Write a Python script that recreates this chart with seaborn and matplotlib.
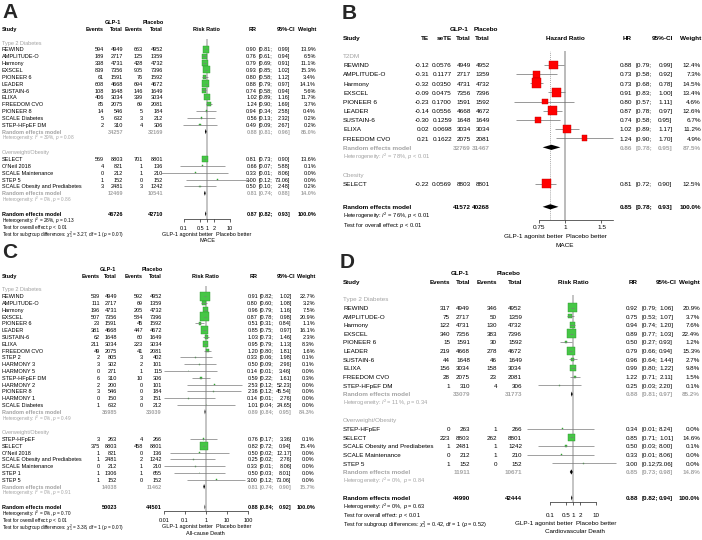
import numpy as np
import matplotlib.pyplot as plt
import matplotlib.ticker as mticker
import seaborn as sns

sns.set_theme(style="white")
plt.rcParams['font.family'] = ['Liberation Sans', 'DejaVu Sans']
plt.rcParams['mathtext.fontset'] = 'custom'
plt.rcParams['mathtext.rm'] = 'Liberation Sans'
plt.rcParams['mathtext.it'] = 'Liberation Sans:italic'
plt.rcParams['mathtext.bf'] = 'Liberation Sans:bold'

# ---------------- A: MACE (risk ratio) ----------------
A_study = ["REWIND", "AMPLITUDE-O", "Harmony", "EXSCEL", "PIONEER 6", "LEADER",
           "SUSTAIN-6", "ELIXA", "FREEDOM CVO", "PIONEER 8", "SCALE Diabetes",
           "STEP-HFpEF DM",
           "SELECT", "O'Neil 2018", "SCALE Maintenance", "STEP 5",
           "SCALE Obesity and Prediabetes"]
A_grp = [0] * 12 + [1] * 5
A_ev1 = [594, 189, 338, 839, 61, 608, 108, 406, 85, 14, 5, 2, 569, 4, 0, 1, 3]
A_n1 = [4949, 2717, 4731, 7356, 1591, 4668, 1648, 3034, 2075, 546, 632, 310,
        8803, 821, 212, 152, 2481]
A_ev2 = [663, 125, 428, 905, 76, 694, 146, 399, 69, 5, 3, 4, 701, 1, 1, 0, 3]
A_n2 = [4952, 1359, 4732, 7396, 1592, 4672, 1649, 3034, 2081, 184, 212, 306,
        8801, 136, 210, 152, 1242]
A_rr = [0.90, 0.76, 0.79, 0.93, 0.80, 0.88, 0.74, 1.02, 1.24, 0.94, 0.56, 0.49,
        0.81, 0.66, 0.33, 3.00, 0.50]
A_lo = [0.81, 0.61, 0.69, 0.85, 0.58, 0.79, 0.58, 0.89, 0.90, 0.34, 0.13, 0.09,
        0.73, 0.07, 0.01, 0.12, 0.10]
A_hi = [0.99, 0.94, 0.91, 1.02, 1.12, 0.97, 0.94, 1.16, 1.69, 2.58, 2.32, 2.67,
        0.90, 5.88, 8.06, 73.06, 2.48]
A_w = [13.9, 6.5, 11.1, 15.3, 3.4, 14.1, 5.6, 11.7, 3.7, 0.4, 0.2, 0.2,
       13.6, 0.1, 0.0, 0.0, 0.2]
A_sub = ["Type 2 Diabetes", "Overweight/Obesity"]
A_sub_n1 = [34257, 12469]
A_sub_n2 = [32169, 10541]
A_sub_rr = [0.88, 0.81]
A_sub_lo = [0.81, 0.74]
A_sub_hi = [0.96, 0.88]
A_sub_w = [86.0, 14.0]
A_sub_het = [("39%", "= 0.08"), ("0%", "= 0.86")]
A_all_n = [46726, 42710]
A_all = [0.87, 0.82, 0.93]
A_all_het = ("28%", "= 0.13")
A_subtest = ("3.27", "0.07")

# ---------------- B: MACE (hazard ratio) ----------------
B_study = ["REWIND", "AMPLITUDE-O", "Harmony", "EXSCEL", "PIONEER 6", "LEADER",
           "SUSTAIN-6", "ELIXA", "FREEDOM CVO", "SELECT"]
B_grp = [0] * 9 + [1]
B_te = [-0.12, -0.31, -0.32, -0.09, -0.23, -0.14, -0.30, 0.02, 0.21, -0.22]
B_sete = [0.0576, 0.1177, 0.0350, 0.0475, 0.1700, 0.0556, 0.1259, 0.0698,
          0.1622, 0.0569]
B_n1 = [4949, 2717, 4731, 7356, 1591, 4668, 1648, 3034, 2075, 8803]
B_n2 = [4952, 1359, 4732, 7396, 1592, 4672, 1649, 3034, 2081, 8801]
B_hr = [0.88, 0.73, 0.73, 0.91, 0.80, 0.87, 0.74, 1.02, 1.24, 0.81]
B_lo = [0.79, 0.58, 0.68, 0.83, 0.57, 0.78, 0.58, 0.89, 0.90, 0.72]
B_hi = [0.99, 0.92, 0.78, 1.00, 1.11, 0.97, 0.95, 1.17, 1.70, 0.90]
B_w = [12.4, 7.3, 14.5, 13.4, 4.6, 12.6, 6.7, 11.2, 4.9, 12.5]
B_sub = ["T2DM", "Obesity"]
B_sub_n1 = [32769]
B_sub_n2 = [31467]
B_sub_hr = [0.86]
B_sub_lo = [0.78]
B_sub_hi = [0.95]
B_sub_w = [87.5]
B_sub_het = [("78%", "< 0.01")]
B_all_n = [41572, 40268]
B_all = [0.85, 0.78, 0.93]
B_all_het = ("76%", "< 0.01")

# ---------------- C: all-cause death ----------------
C_study = ["REWIND", "AMPLITUDE-O", "Harmony", "EXSCEL", "PIONEER 6", "LEADER",
           "SUSTAIN-6", "ELIXA", "FREEDOM CVO", "STEP 2", "HARMONY 3",
           "HARMONY 5", "STEP-HFpEF DM", "HARMONY 2", "PIONEER 8", "HARMONY 1",
           "SCALE Diabetes",
           "STEP-HFpEF", "SELECT", "O'Neil 2018", "SCALE Obesity and Prediabetes",
           "SCALE Maintenance", "STEP 1", "STEP 5"]
C_grp = [0] * 17 + [1] * 7
C_ev1 = [539, 111, 196, 507, 23, 381, 62, 211, 49, 2, 3, 0, 6, 2, 3, 0, 1,
         3, 375, 1, 1, 0, 1, 1]
C_n1 = [4949, 2717, 4731, 7356, 1591, 4668, 1648, 3034, 2075, 805, 302, 271,
        310, 200, 546, 150, 632, 263, 8803, 821, 2481, 212, 1306, 152]
C_ev2 = [592, 69, 205, 584, 45, 447, 60, 223, 41, 3, 2, 1, 10, 0, 0, 3, 0,
         4, 458, 0, 2, 1, 1, 0]
C_n2 = [4952, 1359, 4732, 7396, 1592, 4672, 1649, 3034, 2081, 402, 101, 115,
        306, 101, 184, 151, 212, 266, 8801, 136, 1242, 210, 655, 152]
C_rr = [0.91, 0.80, 0.96, 0.87, 0.51, 0.85, 1.03, 0.95, 1.20, 0.33, 0.50, 0.14,
        0.59, 2.53, 2.36, 0.14, 1.01, 0.76, 0.82, 0.50, 0.25, 0.33, 0.50, 3.00]
C_lo = [0.82, 0.60, 0.79, 0.78, 0.31, 0.75, 0.73, 0.79, 0.80, 0.06, 0.09, 0.01,
        0.22, 0.12, 0.12, 0.01, 0.04, 0.17, 0.72, 0.02, 0.02, 0.01, 0.03, 0.12]
C_hi = [1.02, 1.08, 1.16, 0.98, 0.84, 0.97, 1.46, 1.13, 1.81, 1.98, 2.96, 3.46,
        1.61, 52.23, 45.54, 2.76, 24.65, 3.36, 0.94, 12.17, 2.76, 8.06, 8.01,
        73.06]
C_w = [22.7, 3.2, 7.5, 20.9, 1.1, 16.1, 2.3, 8.3, 1.6, 0.1, 0.1, 0.0, 0.3, 0.0,
       0.0, 0.0, 0.0, 0.1, 15.4, 0.0, 0.0, 0.0, 0.0, 0.0]
C_sub = ["Type 2 Diabetes", "Overweight/Obesity"]
C_sub_n1 = [35985, 14038]
C_sub_n2 = [33039, 11462]
C_sub_rr = [0.89, 0.81]
C_sub_lo = [0.84, 0.74]
C_sub_hi = [0.95, 0.90]
C_sub_w = [84.3, 15.7]
C_sub_het = [("0%", "= 0.49"), ("0%", "= 0.91")]
C_all_n = [50023, 44501]
C_all = [0.88, 0.84, 0.92]
C_all_het = ("0%", "= 0.70")
C_subtest = ("3.38", "0.07")

# ---------------- D: cardiovascular death ----------------
D_study = ["REWIND", "AMPLITUDE-O", "Harmony", "EXSCEL", "PIONEER 6", "LEADER",
           "SUSTAIN-6", "ELIXA", "FREEDOM CVO", "STEP-HFpEF DM",
           "STEP-HFpEF", "SELECT", "SCALE Obesity and Prediabetes",
           "SCALE Maintenance", "STEP 5"]
D_grp = [0] * 10 + [1] * 5
D_ev1 = [317, 75, 122, 340, 15, 219, 44, 156, 28, 1, 0, 223, 1, 0, 1]
D_n1 = [4949, 2717, 4731, 7356, 1591, 4668, 1648, 3034, 2075, 310,
        263, 8803, 2481, 212, 152]
D_ev2 = [346, 50, 130, 383, 30, 278, 46, 158, 23, 4, 1, 262, 1, 1, 0]
D_n2 = [4952, 1359, 4732, 7396, 1592, 4672, 1649, 3034, 2081, 306,
        266, 8801, 1242, 210, 152]
D_rr = [0.92, 0.75, 0.94, 0.89, 0.50, 0.79, 0.96, 0.99, 1.22, 0.25,
        0.34, 0.85, 0.50, 0.33, 3.00]
D_lo = [0.79, 0.53, 0.74, 0.77, 0.27, 0.66, 0.64, 0.80, 0.71, 0.03,
        0.01, 0.71, 0.03, 0.01, 0.12]
D_hi = [1.06, 1.07, 1.20, 1.03, 0.93, 0.94, 1.44, 1.22, 2.11, 2.20,
        8.24, 1.01, 8.00, 8.06, 73.06]
D_w = [20.9, 3.7, 7.6, 22.4, 1.2, 15.3, 2.7, 9.8, 1.5, 0.1,
       0.0, 14.6, 0.1, 0.0, 0.0]
D_sub = ["Type 2 Diabetes", "Overweight/Obesity"]
D_sub_n1 = [33079, 11911]
D_sub_n2 = [31773, 10671]
D_sub_rr = [0.88, 0.85]
D_sub_lo = [0.81, 0.73]
D_sub_hi = [0.97, 0.98]
D_sub_w = [85.2, 14.8]
D_sub_het = [("11%", "= 0.34"), ("0%", "= 0.84")]
D_all_n = [44990, 42444]
D_all = [0.88, 0.82, 0.94]
D_all_het = ("0%", "= 0.63")
D_subtest = ("0.42", "0.52")

W, H = 702, 540
GRAY = "#a3a3a3"

fig = plt.figure(figsize=(W / 100, H / 100), dpi=100)
fig.patch.set_facecolor("white")
ov = fig.add_axes([0, 0, 1, 1])
ov.set_xlim(0, W)
ov.set_ylim(H, 0)
ov.axis("off")


def put(x, y, s, fs, ha="left", bold=False, color="black"):
    # y = middle of the capitals, in pixels from the top
    ov.text(x, y + 0.36 * fs * 1.389, s, fontsize=fs, ha=ha, va="baseline",
            color=color, fontweight="bold" if bold else "normal")


def forest(P):
    fs, h, y0, xn = P["fs"], P["h"], P["y0"], P["xname"]
    fss = fs * P.get("small", 0.9)
    ry = lambda r: y0 + r * h

    for lab, x in P["top"]:
        put(x, ry(0), lab, fs, "center", True)
    put(xn, ry(1), "Study", fs, bold=True)
    for c in P["cols"]:
        put(c["x"], ry(1), c["head"], fs, "right", True)
    put(P["fh_x"], ry(1), P["measure"], fs, "center", True)
    put(P["rr_x"], ry(1), P["short"], fs, "right", True)
    put(P["cih_x"], ry(1), "95%-CI", fs, "right", True)
    put(P["w_x"], ry(1), "Weight", fs, "right", True)

    def result(r, est, lo, hi, w, color="black", bold=False):
        put(P["rr_x"], ry(r), f"{est:.2f}", fs, "right", bold, color)
        put(P["ci_l"], ry(r), f"[{lo:.2f};", fs, "left", bold, color)
        put(P["ci_r"], ry(r), f"{hi:.2f}]", fs, "right", bold, color)
        put(P["w_x"], ry(r), f"{w:.1f}%", fs, "right", bold, color)

    rows = np.zeros(len(P["study"]))
    srow, s_est, s_lo, s_hi = [], [], [], []
    r, k = 3, 0
    for g, gname in enumerate(P["sub"]):
        put(xn, ry(r), gname, fs, color=GRAY)
        r += 1
        idx = [i for i, gg in enumerate(P["grp"]) if gg == g]
        for i in idx:
            rows[i] = r
            put(xn, ry(r), P["study"][i], fs)
            for c in P["cols"]:
                put(c["x"], ry(r), c["fmt"].format(c["vals"][i]), fs, "right")
            result(r, P["est"][i], P["lo"][i], P["hi"][i], P["w"][i])
            r += 1
        if len(idx) > 1:
            put(xn, ry(r), "Random effects model", fs, bold=True, color=GRAY)
            for c in P["cols"]:
                if c.get("sub") is not None:
                    put(c["x"], ry(r), str(c["sub"][k]), fs, "right", True, GRAY)
            result(r, P["s_est"][k], P["s_lo"][k], P["s_hi"][k], P["s_w"][k],
                   GRAY, True)
            i2, p = P["s_het"][k]
            put(xn, ry(r + 1), rf"Heterogeneity: $I^2$ = {i2}, $p$ {p}", fss,
                color=GRAY)
            srow.append(r)
            s_est.append(P["s_est"][k])
            s_lo.append(P["s_lo"][k])
            s_hi.append(P["s_hi"][k])
            k += 1
            r += 3
        else:
            r += 1
    ro = r + P.get("extra", 0)
    put(xn, ry(ro), "Random effects model", fs, bold=True)
    for c in P["cols"]:
        if c.get("all") is not None:
            put(c["x"], ry(ro), str(c["all"]), fs, "right", True)
    result(ro, P["all"][0], P["all"][1], P["all"][2], 100.0, bold=True)
    lines = [rf"Heterogeneity: $I^2$ = {P['all_het'][0]}, $p$ {P['all_het'][1]}",
             r"Test for overall effect: $p$ < 0.01"]
    if P.get("subtest"):
        chi, pp = P["subtest"]
        lines.append(rf"Test for subgroup differences: $\chi^2_1$ = {chi}, df = 1 ($p$ = {pp})")
    for j, s in enumerate(lines):
        put(xn, ry(ro + 1 + j), s, fss)

    # ---- forest column ----
    L, R, x1, kd = P["fx"]
    top = ry(3) - 0.5 * h
    bot = P["axis_y"]
    fx = fig.add_axes([L / W, 1 - bot / H, (R - L) / W, (bot - top) / H])
    fx.set_xscale("log")
    fx.hlines(rows, P["lo"], P["hi"], color=P["ci_col"], lw=0.5,
              zorder=P["ci_z"])
    sns.scatterplot(x=P["est"], y=rows, size=P["w"], sizes=(0.5, P["smax"]),
                    size_norm=(0, max(P["w"])), marker="s", color=P["sq"],
                    edgecolor=P["sq_edge"], linewidth=0.3, legend=False,
                    ax=fx, zorder=3)
    d = 2.6 / h
    for e, lo, hi, rr_ in zip(s_est + [P["all"][0]], s_lo + [P["all"][1]],
                              s_hi + [P["all"][2]], srow + [ro]):
        fx.fill([lo, e, hi, e], [rr_, rr_ - d, rr_, rr_ + d], color="black",
                lw=0, zorder=5)
    fx.set_xlim(10 ** ((L - x1) / kd), 10 ** ((R - x1) / kd))
    fx.set_ylim((bot - y0) / h, (top - y0) / h)
    fx.axvline(1, color=P["vcol"], lw=P["vlw"], zorder=1)
    if P.get("dot"):
        fx.axvline(P["all"][0], color="#8a8a8a", lw=0.5, ls=(0, (1.5, 1.5)),
                   zorder=1)
    for s in ("top", "left", "right"):
        fx.spines[s].set_visible(False)
    fx.spines["bottom"].set_bounds(*P["ax_rng"])
    fx.spines["bottom"].set_linewidth(0.5)
    fx.spines["bottom"].set_color("#222222")
    fx.set_xticks(P["ticks"])
    fx.set_xticklabels(P["tlabels"])
    fx.xaxis.set_minor_locator(mticker.NullLocator())
    em = fs * 1.389
    pad = max(0.5, (P["tick_y"] - bot - 2.5 - 0.55 * em) / 1.389)
    fx.tick_params(axis="x", which="major", bottom=True, direction="out",
                   length=2.5, width=0.5, labelsize=fs, pad=pad,
                   colors="#222222", labelcolor="black")
    fx.set_yticks([])
    fx.set_xlabel("")
    fx.set_ylabel("")
    fx.patch.set_visible(False)
    fx.grid(False)

    sx, by = P["split"], P["better_y"]
    put(sx - 1.5, by, "GLP-1 agonist better", fs, "right")
    put(sx + 1.5, by, "Placebo better", fs, "left")
    put(P["out_x"], P["out_y"], P["outcome"], fs, "center")
    ov.text(P["letter"][0], P["letter"][1], P["letter"][2], fontsize=15,
            fontweight="bold", ha="left", va="baseline")


def cnt_cols(ev1, n1, ev2, n2, s1, s2, a, xs):
    return [dict(head="Events", vals=ev1, fmt="{}", x=xs[0]),
            dict(head="Total", vals=n1, fmt="{}", x=xs[1], sub=s1, all=a[0]),
            dict(head="Events", vals=ev2, fmt="{}", x=xs[2]),
            dict(head="Total", vals=n2, fmt="{}", x=xs[3], sub=s2, all=a[1])]


green = dict(ci_col="#7a7a7a", ci_z=4, sq="#46c646", sq_edge="#2b962b",
             vcol="#b4b4b4", vlw=1.1)

panel_A = dict(
    letter=(2, 18, "A"), fs=4.0, small=0.85, h=6.85, y0=22, xname=2,
    study=A_study, grp=A_grp, sub=A_sub,
    cols=cnt_cols(A_ev1, A_n1, A_ev2, A_n2, A_sub_n1, A_sub_n2, A_all_n,
                  (104, 123, 143, 163)),
    top=[("GLP-1", 113), ("Placebo", 153)],
    measure="Risk Ratio", short="RR", fh_x=206, rr_x=257, ci_l=259, ci_r=290,
    cih_x=295, w_x=316,
    est=A_rr, lo=A_lo, hi=A_hi, w=A_w,
    s_est=A_sub_rr, s_lo=A_sub_lo, s_hi=A_sub_hi, s_w=A_sub_w, s_het=A_sub_het,
    all=A_all, all_het=A_all_het, subtest=A_subtest,
    fx=(150, 252, 207, 23.0), axis_y=219, tick_y=228, ax_rng=(0.1, 10),
    ticks=[0.1, 0.5, 1, 2, 10], tlabels=["0.1", "0.5", "1", "2", "10"],
    smax=26, split=214, better_y=234, out_x=207, out_y=240, outcome="MACE",
    **green)

panel_B = dict(
    letter=(342, 19, "B"), fs=4.6, h=9.15, y0=28.4, xname=343,
    study=B_study, grp=B_grp, sub=B_sub,
    cols=[dict(head="TE", vals=B_te, fmt="{:.2f}", x=429),
          dict(head="seTE", vals=B_sete, fmt="{:.4f}", x=452),
          dict(head="Total", vals=B_n1, fmt="{}", x=471, sub=B_sub_n1,
               all=B_all_n[0]),
          dict(head="Total", vals=B_n2, fmt="{}", x=490, sub=B_sub_n2,
               all=B_all_n[1])],
    top=[("GLP-1", 459), ("Placebo", 486)],
    measure="Hazard Ratio", short="HR", fh_x=565, rr_x=632, ci_l=636,
    ci_r=672.5, cih_x=673, w_x=701,
    est=B_hr, lo=B_lo, hi=B_hi, w=B_w,
    s_est=B_sub_hr, s_lo=B_sub_lo, s_hi=B_sub_hi, s_w=B_sub_w, s_het=B_sub_het,
    all=B_all, all_het=B_all_het, extra=0.5, dot=True,
    fx=(505, 620, 565, 207.2), axis_y=220, tick_y=228, ax_rng=(0.75, 1.7),
    ticks=[0.75, 1, 1.5], tlabels=["0.75", "1", "1.5"],
    smax=48, split=565, better_y=236, out_x=565, out_y=245, outcome="MACE",
    ci_col="#6e6e6e", ci_z=2, sq="#ff0000", sq_edge="#c00000",
    vcol="#a8a8a8", vlw=1.1)

panel_C = dict(
    letter=(2, 258, "C"), fs=4.0, small=0.85, h=6.8, y0=269, xname=2,
    study=C_study, grp=C_grp, sub=C_sub,
    cols=cnt_cols(C_ev1, C_n1, C_ev2, C_n2, C_sub_n1, C_sub_n2, C_all_n,
                  (100, 117, 143, 162)),
    top=[("GLP-1", 108), ("Placebo", 152)],
    measure="Risk Ratio", short="RR", fh_x=205, rr_x=258, ci_l=260, ci_r=291.5,
    cih_x=295, w_x=315,
    est=C_rr, lo=C_lo, hi=C_hi, w=C_w,
    s_est=C_sub_rr, s_lo=C_sub_lo, s_hi=C_sub_hi, s_w=C_sub_w, s_het=C_sub_het,
    all=C_all, all_het=C_all_het, subtest=C_subtest,
    fx=(150, 252, 206, 21.0), axis_y=511, tick_y=520, ax_rng=(0.01, 100),
    ticks=[0.01, 0.1, 1, 10, 100], tlabels=["0.01", "0.1", "1", "10", "100"],
    smax=45, split=214, better_y=526, out_x=205, out_y=533,
    outcome="All-cause Death", **green)

panel_D = dict(
    letter=(340, 268, "D"), fs=4.5, h=8.65, y0=273, xname=343,
    study=D_study, grp=D_grp, sub=D_sub,
    cols=cnt_cols(D_ev1, D_n1, D_ev2, D_n2, D_sub_n1, D_sub_n2, D_all_n,
                  (450, 470, 497, 522)),
    top=[("GLP-1", 460), ("Placebo", 509)],
    measure="Risk Ratio", short="RR", fh_x=573, rr_x=638, ci_l=642, ci_r=673,
    cih_x=677, w_x=700,
    est=D_rr, lo=D_lo, hi=D_hi, w=D_w,
    s_est=D_sub_rr, s_lo=D_sub_lo, s_hi=D_sub_hi, s_w=D_sub_w, s_het=D_sub_het,
    all=D_all, all_het=D_all_het, subtest=D_subtest,
    fx=(505, 630, 573, 23.0), axis_y=502, tick_y=515, ax_rng=(0.1, 10),
    ticks=[0.1, 0.5, 1, 2, 10], tlabels=["0.1", "0.5", "1", "2", "10"],
    smax=45, split=574, better_y=523, out_x=575, out_y=531,
    outcome="Cardiovascular Death", **green)

for P in (panel_A, panel_B, panel_C, panel_D):
    forest(P)

fig.savefig("out.png", dpi=100, facecolor="white")
